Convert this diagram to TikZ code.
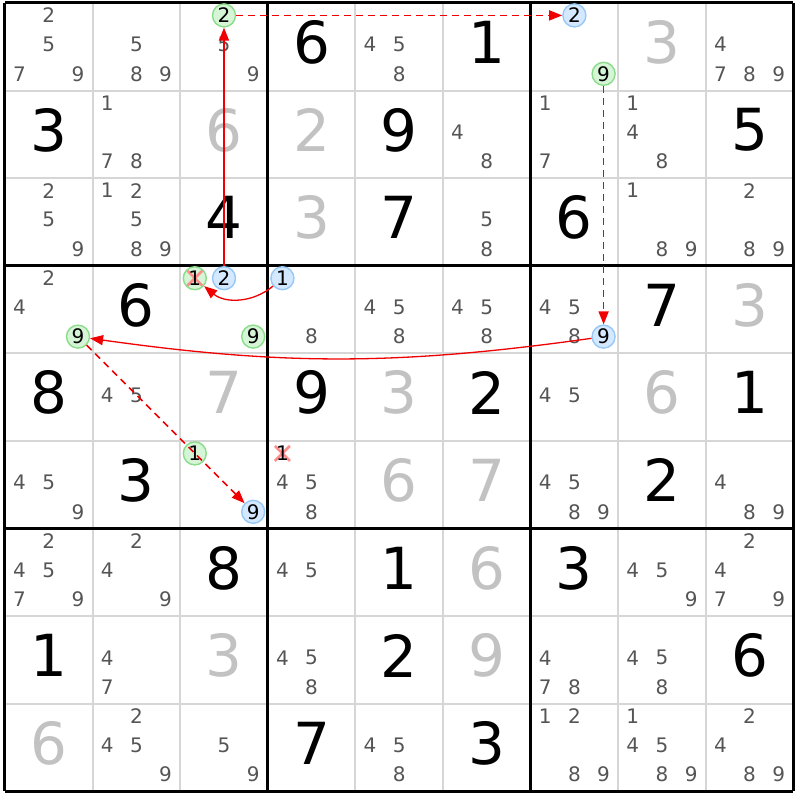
\documentclass[tikz,border=0pt]{standalone}
\usepackage{fontspec}
\setmainfont{DejaVu Sans}
\usetikzlibrary{arrows.meta}

\definecolor{candgray}{HTML}{555555}
\definecolor{solvedgray}{HTML}{C2C2C2}
\definecolor{cellline}{HTML}{D6D6D6}
\definecolor{greenfill}{HTML}{D6F5D6}
\definecolor{greendraw}{HTML}{8ADC8A}
\definecolor{bluefill}{HTML}{D4E9FF}
\definecolor{bluedraw}{HTML}{96C8F8}
\definecolor{xred}{HTML}{FF8C8C}
\definecolor{linkred}{HTML}{F00000}

% one circled candidate, named r<row>c<col>n<digit>
\newcommand\circcand[4]{%
  \pgfmathsetmacro\cx{#3-1+(mod(#4-1,3)+0.5)/3}%
  \pgfmathsetmacro\cy{#2-1+(int((#4-1)/3)+0.5)/3-0.025}%
  \node[#1] (r#2c#3n#4) at (\cx,\cy) {#4};}

\begin{document}
\begin{tikzpicture}[x=87.6pt, y=-87.6pt,
  big/.style={font=\fontsize{58}{58}\selectfont},
  given/.style={big},
  solved/.style={big, text=solvedgray},
  cand/.style={font=\fontsize{20}{20}\selectfont, text=candgray},
  ring/.style={circle, inner sep=0pt, minimum size=23pt, line width=1.4pt,
    font=\fontsize{20}{20}\selectfont},
  gring/.style={ring, draw=greendraw, fill=greenfill},
  bring/.style={ring, draw=bluedraw, fill=bluefill},
  xout/.style={path picture={
    \draw[xred, line width=2.6pt]
      ([shift={(-7.5pt,-7.5pt)}]path picture bounding box.center) -- ([shift={(7.5pt,7.5pt)}]path picture bounding box.center)
      ([shift={(-7.5pt,7.5pt)}]path picture bounding box.center) -- ([shift={(7.5pt,-7.5pt)}]path picture bounding box.center);}},
  weak/.style={draw=linkred, line width=1.6pt, dash pattern=on 7pt off 5pt}
]
\useasboundingbox (-5pt,3pt) rectangle (795pt,-797pt);

% grid
\draw[cellline, line width=2pt] foreach \i in {1,...,8} {(\i,0) -- (\i,9) (0,\i) -- (9,\i)};
\draw[line width=3pt] foreach \i in {0,3,6,9} {(\i,0) -- (\i,9) (0,\i) -- (9,\i)};

% givens and solved cells
\foreach \row/\col/\d in {1/4/6,1/6/1,2/1/3,2/5/9,2/9/5,3/3/4,3/5/7,3/7/6,4/2/6,4/8/7,
    5/1/8,5/4/9,5/6/2,5/9/1,6/2/3,6/8/2,7/3/8,7/5/1,7/7/3,8/1/1,8/5/2,8/9/6,9/4/7,9/6/3}
  \node[given] at (\col-0.5,\row-0.55) {\d};
\foreach \row/\col/\d in {1/8/3,2/3/6,2/4/2,3/4/3,4/9/3,5/3/7,5/5/3,5/8/6,6/5/6,6/6/7,
    7/6/6,8/3/3,8/6/9,9/1/6}
  \node[solved] at (\col-0.5,\row-0.55) {\d};

% pencil marks
\foreach \row/\col/\ds in {1/1/{2,5,7,9},1/2/{5,8,9},1/3/{5,9},1/5/{4,5,8},1/9/{4,7,8,9},
    2/2/{1,7,8},2/6/{4,8},2/7/{1,7},2/8/{1,4,8},
    3/1/{2,5,9},3/2/{1,2,5,8,9},3/6/{5,8},3/8/{1,8,9},3/9/{2,8,9},
    4/1/{2,4},4/4/{8},4/5/{4,5,8},4/6/{4,5,8},4/7/{4,5,8},
    5/2/{4,5},5/7/{4,5},
    6/1/{4,5,9},6/4/{4,5,8},6/7/{4,5,8,9},6/9/{4,8,9},
    7/1/{2,4,5,7,9},7/2/{2,4,9},7/4/{4,5},7/8/{4,5,9},7/9/{2,4,7,9},
    8/2/{4,7},8/4/{4,5,8},8/7/{4,7,8},8/8/{4,5,8},
    9/2/{2,4,5,9},9/3/{5,9},9/5/{4,5,8},9/7/{1,2,8,9},9/8/{1,4,5,8,9},9/9/{2,4,8,9}}
  \foreach \n in \ds
    \node[cand] at ({\col-1+(mod(\n-1,3)+0.5)/3},{\row-1+(int((\n-1)/3)+0.5)/3-0.025}) {\n};

% chain candidates
\circcand{gring}{1}{3}{2}
\circcand{bring}{1}{7}{2}
\circcand{gring}{1}{7}{9}
\circcand{gring}{4}{1}{9}
\circcand{gring, xout}{4}{3}{1}
\circcand{bring}{4}{3}{2}
\circcand{gring}{4}{3}{9}
\circcand{bring}{4}{4}{1}
\circcand{bring}{4}{7}{9}
\circcand{gring}{6}{3}{1}
\circcand{bring}{6}{3}{9}
\circcand{ring, xout}{6}{4}{1}

\begin{scope}[linkred, line width=1.3pt, -{Triangle[length=13pt,width=10pt]}]
\draw (r4c3n2) -- (r1c3n2);
\draw[weak] (r1c3n2) -- (r1c7n2);
\draw[weak] (r1c7n9) -- (r4c7n9);
\draw (r4c7n9) to[bend left=8] (r4c1n9);
\draw[weak] (r4c1n9) -- (r6c3n9);
\draw (r4c4n1) to[bend left=40] (r4c3n1);
\end{scope}

\end{tikzpicture}
\end{document}
